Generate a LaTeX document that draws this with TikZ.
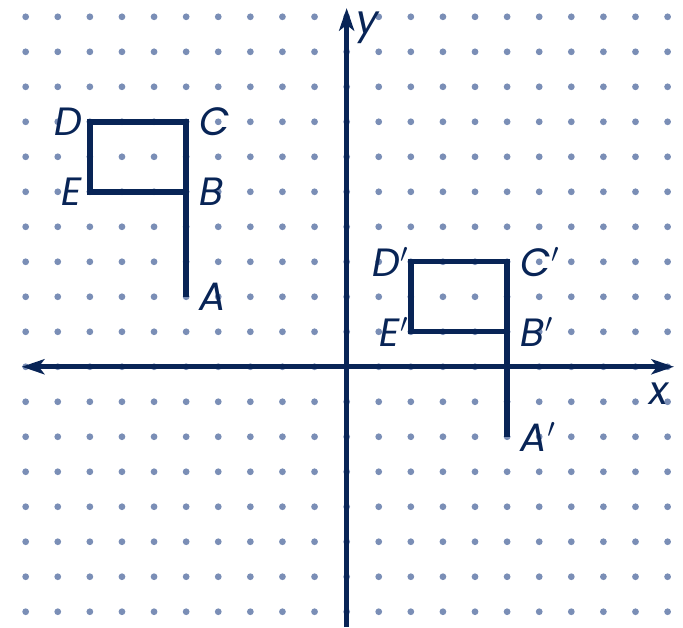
\documentclass[tikz,border=0pt]{standalone}
\usepackage{fontspec}
\newfontfamily\lblfont{Poppins}
\usetikzlibrary{arrows.meta}
\definecolor{navy}{RGB}{8,36,86}
\definecolor{dotblue}{RGB}{122,142,182}

\begin{document}
\begin{tikzpicture}[x=0.6cm,y=0.6542cm,>={Stealth[length=12pt,width=8pt,inset=3pt]},
		lbl/.style={font=\lblfont\itshape\fontsize{21}{21}\selectfont,text=navy,inner sep=1pt},
		edge/.style={navy,line width=2.9pt}]
		\useasboundingbox (-10.80,-7.44) rectangle (10.48,10.48);
		
		%--- Dot grid ---
		\foreach \i in {-10,...,10}
			\foreach \j in {-7,...,10}
				\fill[dotblue] (\i,\j) circle (1.8pt);
		
		%--- Axes ---
		\coordinate (xl) at (-10.12,0);
		\coordinate (xr) at (10.2,0);
		\coordinate (yb) at (0,-7.44);
		\coordinate (yt) at (0,10.25);
		\draw[edge,<->] (xl) -- (xr);
		\draw[edge,->] (yb) -- (yt);
		\node[lbl] (labx) at (9.73,-0.76) {x};
		\node[lbl] (laby) at (0.66,9.68) {y};
		
		%--- Flag ABCDE ---
		\coordinate (A) at (-5,2);
		\coordinate (B) at (-5,5);
		\coordinate (C) at (-5,7);
		\coordinate (D) at (-8,7);
		\coordinate (E) at (-8,5);
		\draw[edge] (A) -- (C) -- (D) -- (E) -- (B);
		
		\node[lbl,right=6pt] (labA) at (A) {A};
		\node[lbl,right=6pt] (labB) at (B) {B};
		\node[lbl,right=6pt] (labC) at (C) {C};
		\node[lbl,left=3pt] (labD) at (D) {D};
		\node[lbl,left=3pt] (labE) at (E) {E};
		
		%--- Image A'B'C'D'E' (shifted 10 right, 4 down) ---
		\coordinate (A') at (5,-2);
		\coordinate (B') at (5,1);
		\coordinate (C') at (5,3);
		\coordinate (D') at (2,3);
		\coordinate (E') at (2,1);
		\draw[edge] (A') -- (C') -- (D') -- (E') -- (B');
		
		\node[lbl,right=6pt] (labA') at (A') {A$'$};
		\node[lbl,right=6pt] (labB') at (B') {B$'$};
		\node[lbl,right=6pt] (labC') at (C') {C$'$};
		\node[lbl,left=0pt] (labD') at (D') {D$'$};
		\node[lbl,left=0pt] (labE') at (E') {E$'$};
		
	\end{tikzpicture}
\end{document}
